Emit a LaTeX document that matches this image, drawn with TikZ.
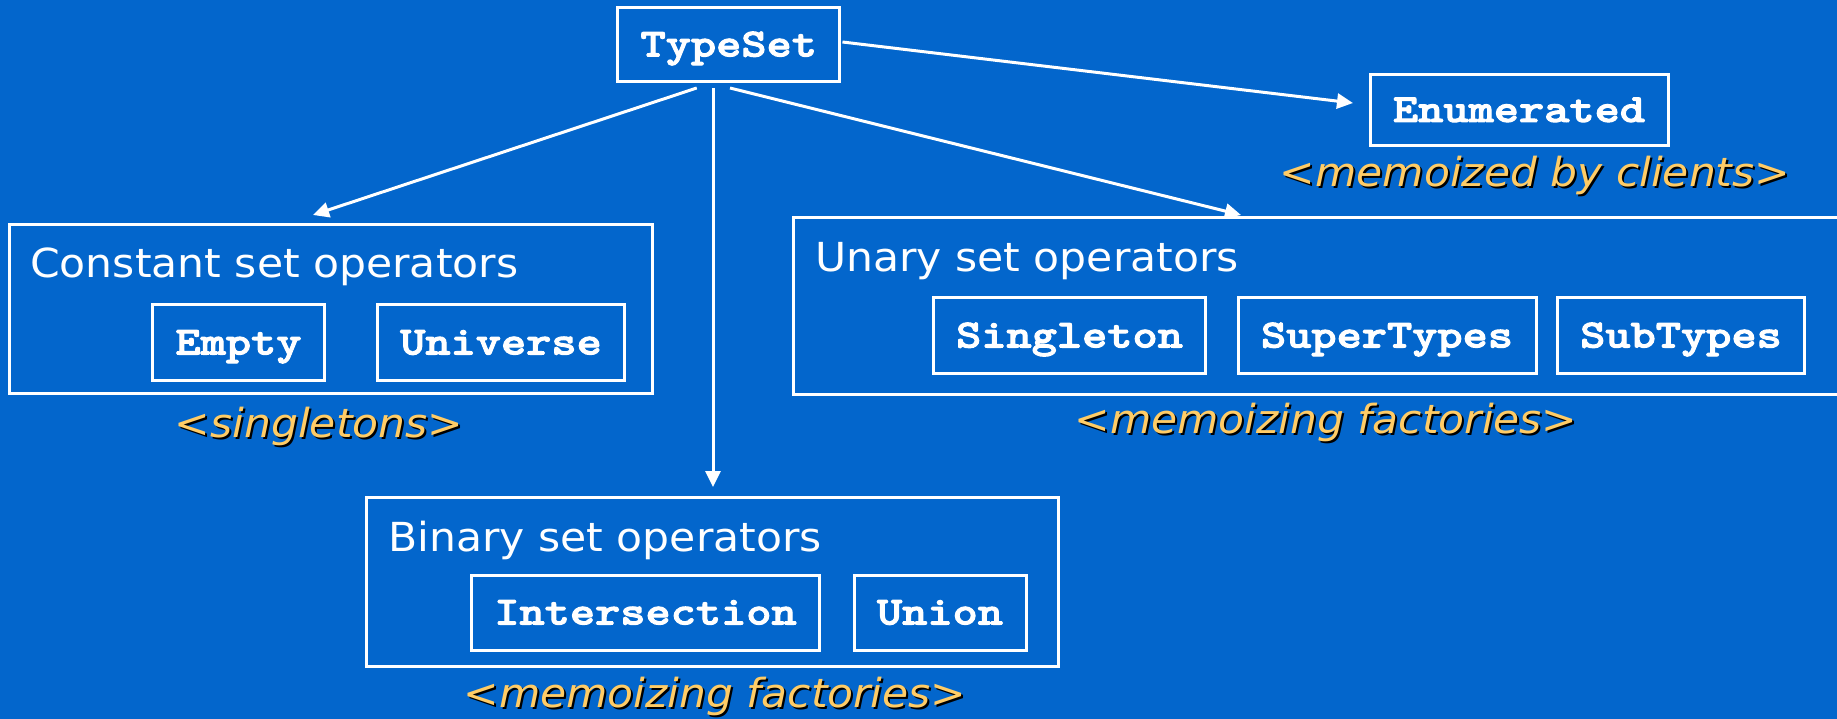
\documentclass[tikz,border=0pt]{standalone}
\usepackage{fontspec}
\setmainfont{DejaVu Sans}
\newfontfamily\headfont[FakeStretch=1.063]{DejaVu Sans}
\newfontfamily\notefont[FakeStretch=1.06]{DejaVu Sans Oblique}
\newfontfamily\codefont[FakeStretch=1.2,FakeBold=2.5]{lmmonolt10-bold.otf}
\usetikzlibrary{arrows.meta,calc}
\definecolor{slide}{RGB}{3,102,204}
\definecolor{notecol}{RGB}{255,204,102}

\begin{document}
\begin{tikzpicture}[x=1pt,y=-1pt,
  frame/.style={draw=white,line width=3pt,inner sep=0pt,outer sep=0pt},
  codebox/.style={frame,font=\codefont\fontsize{40}{40}\selectfont,text=white,
    inner xsep=23pt,minimum height=75pt,text height=24pt,text depth=0pt},
  group/.style={frame},
  head/.style={text=white,font=\headfont\fontsize{40}{48}\selectfont,inner sep=0pt,anchor=base west},
  note/.style={text=notecol,font=\notefont\fontsize{40}{48}\selectfont,inner sep=0pt,anchor=base},
  noteshadow/.style={note,text=black},
  link/.style={draw=white,line width=3pt,-{Triangle[length=16pt,width=15pt]}}
]
\useasboundingbox (0,0) rectangle (1837,719);
\clip (0,0) rectangle (1837,719);
\fill[slide] (0,0) rectangle (1837,719);

% root and the enumerated type
\node[codebox,minimum height=74pt] (typeset) at (728.75,44.5) {TypeSet};
\node[codebox,minimum height=71pt] (enum) at (1519,110) {Enumerated};
\node[noteshadow] (enumnote-s) at (1537,189) {<memoized by clients>};
\node[note] (enumnote) at (1535,187) {<memoized by clients>};

% constant set operators
\node[group,minimum width=643pt,minimum height=168.5pt] (const) at (330.5,308.75) {};
\node[head] (consthead) at (30,278) {Constant set operators};
\node[codebox] (empty) at (238.5,342.5) {Empty};
\node[codebox] (universe) at (501,342.5) {Universe};
\node[noteshadow] (constnote-s) at (321,439) {<singletons>};
\node[note] (constnote) at (319,437) {<singletons>};

% unary set operators
\node[group,minimum width=1052pt,minimum height=176pt] (unary) at (1319,306) {};
\node[head] (unaryhead) at (815,272) {Unary set operators};
\node[codebox] (singleton) at (1069.5,335.5) {Singleton};
\node[codebox] (supertypes) at (1387,335.5) {SuperTypes};
\node[codebox] (subtypes) at (1681,335.5) {SubTypes};
\node[noteshadow] (unarynote-s) at (1328,435) {<memoizing factories>};
\node[note] (unarynote) at (1326,433) {<memoizing factories>};

% binary set operators
\node[group,minimum width=692pt,minimum height=169pt] (binary) at (712,581.5) {};
\node[head] (binaryhead) at (388,551) {Binary set operators};
\node[codebox] (intersection) at (645.5,612.5) {Intersection};
\node[codebox] (union) at (940,612.5) {Union};
\node[noteshadow] (binarynote-s) at (717,709) {<memoizing factories>};
\node[note] (binarynote) at (715,707) {<memoizing factories>};

% connectors from the root
\draw[link] ($(typeset.east)+(2.5,-2.5)$) -- ($(enum.west)+(-17,-7)$);
\draw[link] ($(typeset.south)+(-32,6.5)$) -- ($(const.north)+(-17.5,-9.5)$);
\draw[link] ($(typeset.south)+(1.25,6.5)$) -- ($(unary.north west)+(448,-3)$);
\draw[link] ($(typeset.south)+(-15.75,6.5)$) -- ($(binary.north)+(1,-10)$);
\end{tikzpicture}
\end{document}
